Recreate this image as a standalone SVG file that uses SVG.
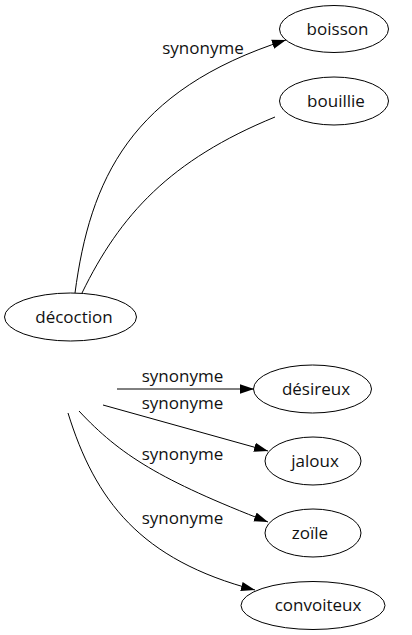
<svg xmlns="http://www.w3.org/2000/svg" width="412" height="635" viewBox="0 0 412 635">
<style>
.node ellipse{fill:#fff;stroke:#000;stroke-width:1}
.node text{font-family:"Open Sans","DejaVu Sans",sans-serif;font-size:17px;text-anchor:middle;fill:#111}
.edges path{fill:none;stroke:#000;stroke-width:1}
.lbl{font-family:"Open Sans","DejaVu Sans",sans-serif;font-size:17px;text-anchor:middle;fill:#111}
</style>
<defs>
<marker id="arr" markerUnits="userSpaceOnUse" markerWidth="14" markerHeight="10" viewBox="0 0 12 8" refX="12" refY="4" orient="auto">
<path d="M0,0 L12,4 L0,8 Z" fill="#000"/>
</marker>
</defs>
<rect width="412" height="635" fill="#fff"/>
<g class="edges" id="edges">
<path d="M75,293 C90,180 130,90 286,40" marker-end="url(#arr)"/>
<path d="M82,293 C120,215 170,160 275,117"/>
<path d="M117,389 L254,389" marker-end="url(#arr)"/>
<path d="M103,405 L268,451" marker-end="url(#arr)"/>
<path d="M79,411 C120,455 160,480 268,522" marker-end="url(#arr)"/>
<path d="M68,413 C95,500 140,560 255,590" marker-end="url(#arr)"/>
<text class="lbl" x="203" y="54">synonyme</text>
<text class="lbl" x="182.5" y="382">synonyme</text>
<text class="lbl" x="182.5" y="409">synonyme</text>
<text class="lbl" x="182.5" y="460">synonyme</text>
<text class="lbl" x="182.5" y="524">synonyme</text>
</g>
<g class="node" id="n-decoction"><ellipse cx="70.5" cy="317" rx="66" ry="24"/><text x="74" y="323">décoction</text></g>
<g class="node" id="n-boisson"><ellipse cx="334" cy="29" rx="54.5" ry="23.5"/><text x="337.5" y="35">boisson</text></g>
<g class="node" id="n-bouillie"><ellipse cx="334" cy="101" rx="54.5" ry="24"/><text x="336" y="107">bouillie</text></g>
<g class="node" id="n-desireux"><ellipse cx="312.5" cy="389" rx="59" ry="24"/><text x="316" y="395">désireux</text></g>
<g class="node" id="n-jaloux"><ellipse cx="313" cy="461" rx="48" ry="24"/><text x="315" y="467">jaloux</text></g>
<g class="node" id="n-zoile"><ellipse cx="313" cy="533" rx="48" ry="24"/><text x="310" y="539">zoïle</text></g>
<g class="node" id="n-convoiteux"><ellipse cx="313" cy="605.5" rx="72" ry="24"/><text x="318" y="611">convoiteux</text></g>
</svg>
